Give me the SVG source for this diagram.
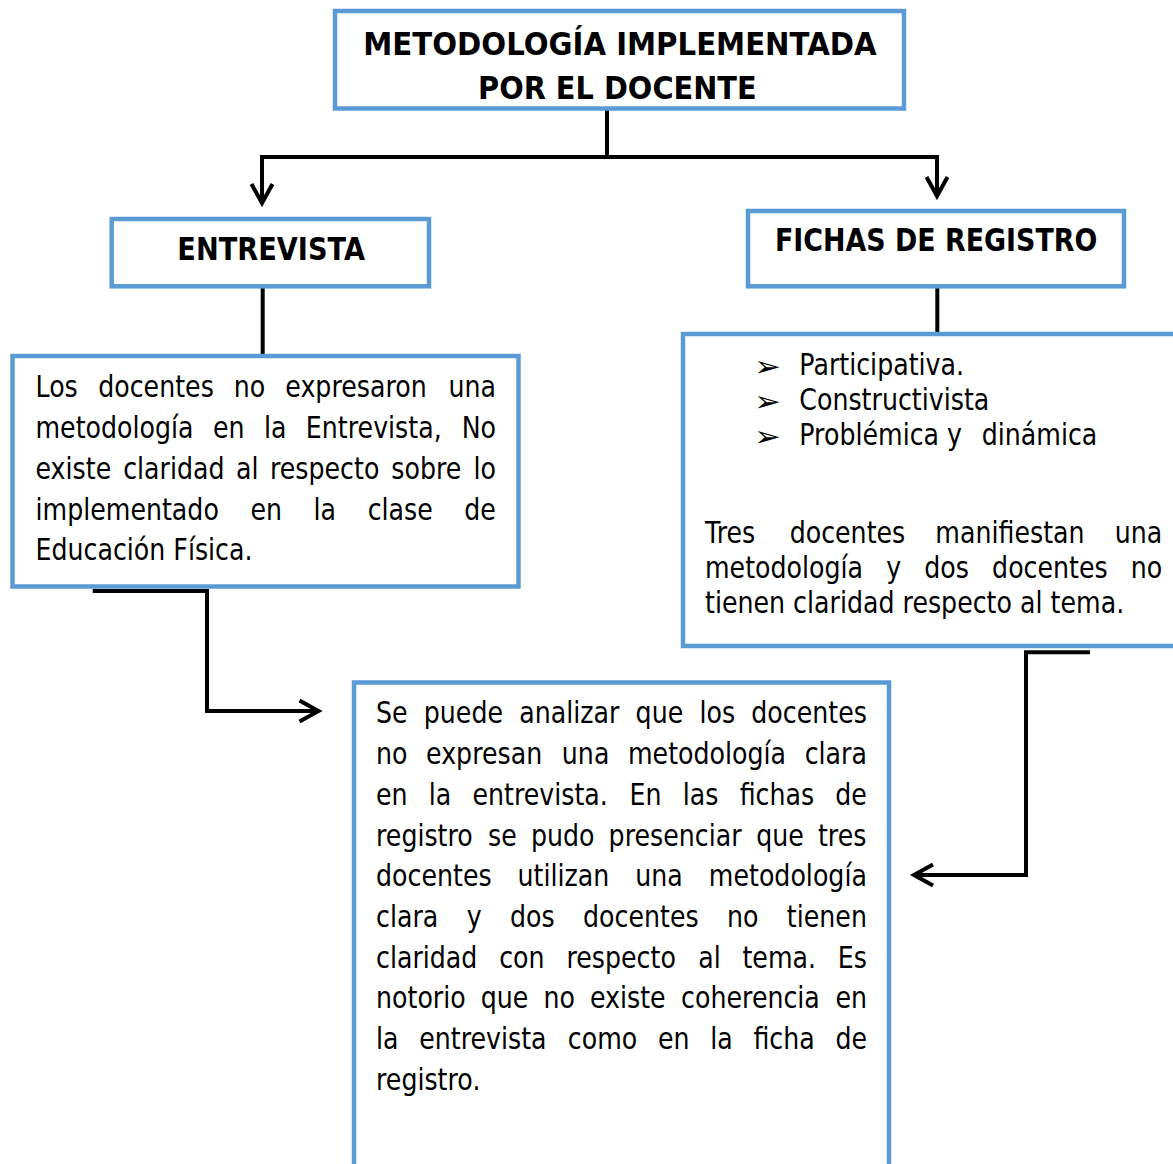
<svg xmlns="http://www.w3.org/2000/svg" width="1173" height="1164" viewBox="0 0 1173 1164">
<style>
.box{fill:#fff;stroke:#5b9bd5;stroke-width:4.5}
.hd{font-family:"DejaVu Sans","Liberation Sans",sans-serif;font-weight:bold;font-size:31.5px;fill:#000}
.tx{font-family:"DejaVu Sans","Liberation Sans",sans-serif;font-size:29.5px;fill:#000}
.bl{font-family:"DejaVu Sans","Noto Sans",sans-serif;font-size:28px;fill:#000}
.cn{fill:none;stroke:#000;stroke-width:4}
</style>
<defs>
<marker id="arr" markerUnits="userSpaceOnUse" viewBox="-24 -14 28 28" markerWidth="28" markerHeight="28" refX="0" refY="0" orient="auto" overflow="visible">
<path d="M-19,-10.5 L0,0 L-19,10.5" fill="none" stroke="#000" stroke-width="4"/>
</marker>
</defs>
<rect width="1173" height="1164" fill="#fff"/>

<g id="connectors">
<path class="cn" d="M607,110 V157"/>
<path class="cn" d="M609,157 H262 V203" marker-end="url(#arr)"/>
<path class="cn" d="M605,157 H937 V196" marker-end="url(#arr)"/>
<path class="cn" d="M262.7,288 V355"/>
<path class="cn" d="M937.3,288 V334"/>
<path class="cn" d="M92.7,591 H207 V711 H318.5" marker-end="url(#arr)"/>
<path class="cn" d="M1090,652.3 H1026 V875 H914" marker-end="url(#arr)"/>
</g>

<g id="title">
<rect class="box" x="335" y="11" width="569" height="97.5"/>
<text class="hd" x="363.3" y="55" textLength="513.4" lengthAdjust="spacingAndGlyphs">METODOLOGÍA IMPLEMENTADA</text>
<text class="hd" x="478" y="98.5" textLength="278.7" lengthAdjust="spacingAndGlyphs">POR EL DOCENTE</text>
</g>

<g id="entrevista">
<rect class="box" x="111.7" y="219" width="317.3" height="67.3"/>
<text class="hd" x="177.3" y="260" textLength="187.7" lengthAdjust="spacingAndGlyphs">ENTREVISTA</text>
</g>

<g id="fichas">
<rect class="box" x="748" y="211" width="376" height="75.3"/>
<text class="hd" x="775" y="251" textLength="322.3" lengthAdjust="spacingAndGlyphs">FICHAS DE REGISTRO</text>
</g>

<g id="entrevista-detalle">
<rect class="box" x="12.5" y="356" width="506" height="230.5"/>
<g transform="scale(0.857 1)">
<text class="tx" y="397.5"><tspan x="41.42">Los</tspan><tspan x="114.59">docentes</tspan><tspan x="272.81">no</tspan><tspan x="332.9">expresaron</tspan><tspan x="523.22">una</tspan></text>
<text class="tx" y="438.2"><tspan x="41.42">metodología</tspan><tspan x="248.6">en</tspan><tspan x="308.05">la</tspan><tspan x="356.88">Entrevista,</tspan><tspan x="538.74">No</tspan></text>
<text class="tx" y="478.9"><tspan x="41.42">existe</tspan><tspan x="143.69">claridad</tspan><tspan x="275.36">al</tspan><tspan x="314.96">respecto</tspan><tspan x="456.66">sobre</tspan><tspan x="552.39">lo</tspan></text>
<text class="tx" y="519.6"><tspan x="41.42">implementado</tspan><tspan x="292.24">en</tspan><tspan x="365.93">la</tspan><tspan x="429">clase</tspan><tspan x="541.78">de</tspan></text>
<text class="tx" x="41.42" y="560.3">Educación Física.</text>
</g>
</g>

<g id="fichas-detalle">
<rect class="box" x="683" y="334" width="520" height="312"/>
<g transform="scale(1.15 1)">
<text class="bl" x="655.65" y="376">➢</text>
<text class="bl" x="655.65" y="411.5">➢</text>
<text class="bl" x="655.65" y="446.5">➢</text>
</g>
<g transform="scale(0.857 1)">
<text class="tx" x="932.67" y="375">Participativa.</text>
<text class="tx" x="932.67" y="410.5">Constructivista</text>
<text class="tx" y="445.5"><tspan x="932.67">Problémica y</tspan><tspan x="1145.51">dinámica</tspan></text>
<text class="tx" y="543.3"><tspan x="822.64">Tres</tspan><tspan x="921.42">docentes</tspan><tspan x="1091.42">manifiestan</tspan><tspan x="1300.7">una</tspan></text>
<text class="tx" y="578.5"><tspan x="822.64">metodología</tspan><tspan x="1034.13">y</tspan><tspan x="1078.56">dos</tspan><tspan x="1157.66">docentes</tspan><tspan x="1319.49">no</tspan></text>
<text class="tx" x="822.64" y="613.5">tienen claridad respecto al tema.</text>
</g>
</g>

<g id="conclusion">
<rect class="box" x="354" y="682.5" width="535" height="520"/>
<g transform="scale(0.857 1)">
<text class="tx" y="723.5"><tspan x="438.74">Se</tspan><tspan x="494.52">puede</tspan><tspan x="605.83">analizar</tspan><tspan x="741.66">que</tspan><tspan x="816.1">los</tspan><tspan x="876.66">docentes</tspan></text>
<text class="tx" y="764.2"><tspan x="438.74">no</tspan><tspan x="497.16">expresan</tspan><tspan x="655.59">una</tspan><tspan x="732.74">metodología</tspan><tspan x="938.95">clara</tspan></text>
<text class="tx" y="804.9"><tspan x="438.74">en</tspan><tspan x="500.32">la</tspan><tspan x="551.27">entrevista.</tspan><tspan x="734.67">En</tspan><tspan x="796.71">las</tspan><tspan x="863.07">fichas</tspan><tspan x="974.7">de</tspan></text>
<text class="tx" y="845.6"><tspan x="438.74">registro</tspan><tspan x="569.55">se</tspan><tspan x="619.49">pudo</tspan><tspan x="710.15">presenciar</tspan><tspan x="882.44">que</tspan><tspan x="954.44">tres</tspan></text>
<text class="tx" y="886.3"><tspan x="438.74">docentes</tspan><tspan x="603.91">utilizan</tspan><tspan x="741.31">una</tspan><tspan x="827.07">metodología</tspan></text>
<text class="tx" y="927"><tspan x="438.74">clara</tspan><tspan x="544.53">y</tspan><tspan x="595.09">dos</tspan><tspan x="680.34">docentes</tspan><tspan x="848.32">no</tspan><tspan x="918.17">tienen</tspan></text>
<text class="tx" y="967.7"><tspan x="438.74">claridad</tspan><tspan x="582.53">con</tspan><tspan x="660.93">respecto</tspan><tspan x="814.69">al</tspan><tspan x="866.36">tema.</tspan><tspan x="977.66">Es</tspan></text>
<text class="tx" y="1008.4"><tspan x="438.74">notorio</tspan><tspan x="561.03">que</tspan><tspan x="634.07">no</tspan><tspan x="688.33">existe</tspan><tspan x="794.75">coherencia</tspan><tspan x="974.8">en</tspan></text>
<text class="tx" y="1049.1"><tspan x="438.74">la</tspan><tspan x="489.11">entrevista</tspan><tspan x="662.59">como</tspan><tspan x="767.81">en</tspan><tspan x="828.8">la</tspan><tspan x="879.17">ficha</tspan><tspan x="974.88">de</tspan></text>
<text class="tx" x="438.74" y="1089.8">registro.</text>
</g>
</g>
</svg>
